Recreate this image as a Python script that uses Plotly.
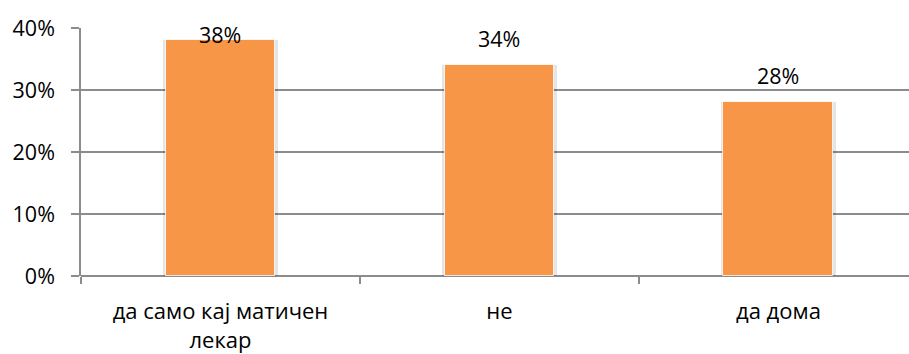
import plotly.graph_objects as go

categories = ["да само кај матичен<br>лекар", "не", "да дома"]
values = [38, 34, 28]
y_ticks = [0, 10, 20, 30, 40]
y_tick_labels = ["0%", "10%", "20%", "30%", "40%"]

BAR_COLOR = "#F79646"
GRID_COLOR = "#8C8C8C"
FONT = "Open Sans, Liberation Sans, sans-serif"

fig = go.Figure()

# soft shadow behind each bar
fig.add_trace(go.Bar(
    x=categories,
    y=values,
    width=0.412,
    marker=dict(color="rgba(0,0,0,0.10)", line=dict(width=0)),
    hoverinfo="skip",
))

fig.add_trace(go.Bar(
    x=categories,
    y=values,
    width=0.394,
    marker=dict(color=BAR_COLOR, line=dict(color="rgba(255,255,255,0.8)", width=1)),
    hoverinfo="skip",
))

# value labels above the bars, kept inside the plotting area
for cat, v in zip(categories, values):
    fig.add_annotation(
        x=cat, y=min(v + 4.35, 38.9), text=f"{v}%",
        showarrow=False, xanchor="center", yanchor="middle",
        font=dict(family=FONT, size=21.5, color="#000000"),
    )

fig.update_layout(
    width=909, height=354,
    margin=dict(l=81, r=0, t=28, b=78),
    paper_bgcolor="white", plot_bgcolor="white",
    showlegend=False,
    barmode="overlay",
    bargap=0,
    font=dict(family=FONT, size=21.5, color="#000000"),
)

fig.update_xaxes(
    type="category",
    range=[-0.5, 2.468],
    tickson="boundaries",
    ticks="outside", ticklen=7, tickwidth=1.5, tickcolor=GRID_COLOR,
    showline=False, showgrid=False, zeroline=False,
    tickfont=dict(family=FONT, size=22, color="#000000"),
    ticklabelstandoff=20,
)

fig.update_yaxes(
    range=[0, 40],
    tickvals=y_ticks, ticktext=y_tick_labels,
    ticks="outside", ticklen=8, tickwidth=1.5, tickcolor=GRID_COLOR,
    showgrid=True, gridcolor=GRID_COLOR, gridwidth=1.5,
    showline=True, linecolor=GRID_COLOR, linewidth=1.5,
    zeroline=True, zerolinecolor=GRID_COLOR, zerolinewidth=1.5,
    tickfont=dict(family=FONT, size=21.5, color="#000000"),
    ticklabelstandoff=12,
)

fig.write_html("out.html")
